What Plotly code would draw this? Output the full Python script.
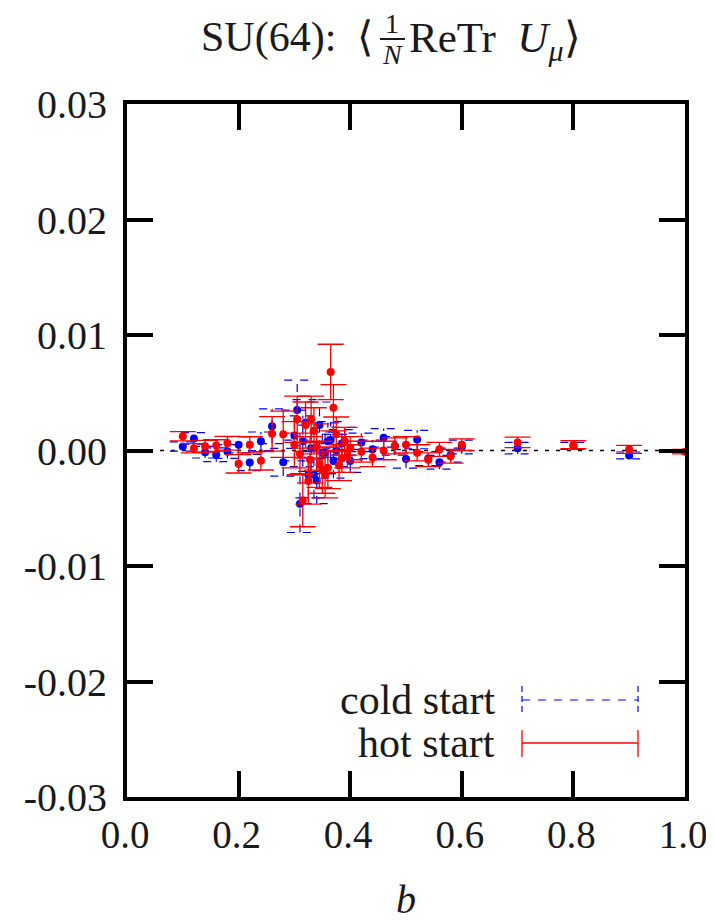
import plotly.graph_objects as go

# ---------------- data ----------------
cold_b = [0.10, 0.12, 0.14, 0.16, 0.18, 0.20, 0.22, 0.24, 0.26, 0.28,
          0.300, 0.305, 0.310, 0.315, 0.320, 0.325, 0.330, 0.335, 0.340, 0.345,
          0.350, 0.355, 0.360, 0.365, 0.370, 0.375, 0.385, 0.390, 0.400,
          0.42, 0.44, 0.46, 0.48, 0.50, 0.52, 0.54, 0.56, 0.58, 0.60,
          0.70, 0.80, 0.90]
cold_val = [0.00035, 0.00104, -0.00015, -0.00037, -0.00009, 0.00049, -0.00104, 0.00080, 0.00210, -0.00101,
            0.00130, 0.00350, -0.00460, 0.00080, 0.00240, -0.00210, 0.00020, -0.00210, -0.00260, 0.00220,
            -0.00020, -0.00020, 0.00080, 0.00090, -0.00090, 0.00000, 0.00060, 0.00080, -0.00090,
            0.00070, 0.00010, 0.00110, 0.00040, -0.00073, 0.00095, -0.00070, -0.00102, -0.00040, 0.00030,
            0.00020, 0.00040, -0.00043]
cold_err = [0.0004, 0.0005, 0.0005, 0.0006, 0.0006, 0.0007, 0.0007, 0.0008, 0.0015, 0.0012,
            0.0022, 0.0026, 0.0025, 0.0022, 0.0020, 0.0020, 0.0020, 0.0020, 0.0020, 0.0020,
            0.0018, 0.0018, 0.0016, 0.0016, 0.0015, 0.0014, 0.0012, 0.0012, 0.0010,
            0.0008, 0.0008, 0.0008, 0.0008, 0.0008, 0.0008, 0.0006, 0.0006, 0.0006, 0.0006,
            0.0005, 0.0003, 0.0003]

hot_b = [0.10, 0.12, 0.14, 0.16, 0.18, 0.20, 0.22, 0.24, 0.26, 0.28,
         0.300, 0.305, 0.310, 0.315, 0.320, 0.325, 0.328, 0.330, 0.335, 0.340, 0.345,
         0.350, 0.355, 0.360, 0.365, 0.370, 0.375, 0.380, 0.385, 0.390, 0.395, 0.400,
         0.42, 0.44, 0.46, 0.48, 0.50, 0.52, 0.54, 0.56, 0.58, 0.60,
         0.70, 0.80, 0.90, 1.00]
hot_val = [0.00124, 0.00020, 0.00037, 0.00043, 0.00063, -0.00115, 0.00049, -0.00089, 0.00144, 0.00141,
           0.00050, 0.00270, -0.00030, -0.00430, 0.00220, -0.00265, -0.00080, 0.00270, 0.00170, 0.00030, -0.00120,
           -0.00170, -0.00210, -0.00150, 0.00680, 0.00370, 0.00140, -0.00130, -0.00070, 0.00080, -0.00050, 0.00020,
           -0.00010, -0.00060, 0.00000, 0.00040, 0.00050, -0.00020, -0.00080, 0.00010, -0.00050, 0.00050,
           0.00070, 0.00050, 0.00010, -0.00010]
hot_err = [0.0004, 0.0004, 0.0005, 0.0005, 0.0006, 0.0008, 0.0007, 0.0008, 0.0015, 0.0020,
           0.0020, 0.0020, 0.0018, 0.0023, 0.0020, 0.0020, 0.0020, 0.0020, 0.0020, 0.0020, 0.0020,
           0.0020, 0.0020, 0.0018, 0.0024, 0.0020, 0.0015, 0.0013, 0.0012, 0.0012, 0.0010, 0.0010,
           0.0009, 0.0008, 0.0008, 0.0007, 0.0007, 0.0007, 0.0006, 0.0006, 0.0006, 0.0005,
           0.00045, 0.00035, 0.00035, 0.0002]

x_tickvals = [0.0, 0.2, 0.4, 0.6, 0.8, 1.0]
x_ticktext = ["0.0", "0.2", "0.4", "0.6", "0.8", "1.0"]
y_tickvals = [-0.03, -0.02, -0.01, 0.0, 0.01, 0.02, 0.03]
y_ticktext = ["-0.03", "-0.02", "-0.01", "0.00", "0.01", "0.02", "0.03"]

# ---------------- style / layout geometry ----------------
FONT = "Liberation Serif"
TXT = "#1a1a1a"
BLUE = "#0000ff"
RED = "#ff0000"
CAP = 0.0233  # half width of error-bar caps in data units of b (≈13 px)
OFF = 8       # the page body adds an 8 px margin around the figure
W, H = 714 - OFF, 923 - OFF
ML, MR, MT, MB = 127 - OFF, 29, 104 - OFF, 126
PW, PH = W - ML - MR, H - MT - MB


def px(xp):  # screenshot pixel x -> paper x
    return (xp - 127) / PW


def py(yp):  # screenshot pixel y -> paper y
    return (797 - yp) / PH


fig = go.Figure()

# zero reference line
fig.add_shape(type="line", xref="x", yref="y", x0=0, x1=1, y0=0, y1=0,
              line=dict(color="black", width=1.3, dash="4px,7px"), layer="below")

# cold start: dashed error bars built from the data arrays
ex, ey = [], []
for b, v, e in zip(cold_b, cold_val, cold_err):
    ex += [b, b, None, b - CAP, b + CAP, None, b - CAP, b + CAP, None]
    ey += [v - e, v + e, None, v + e, v + e, None, v - e, v - e, None]
fig.add_trace(go.Scatter(x=ex, y=ey, mode="lines", connectgaps=False,
                         line=dict(color=BLUE, width=1.2, dash="8px,8px"),
                         hoverinfo="skip", showlegend=False))
fig.add_trace(go.Scatter(x=cold_b, y=cold_val, mode="markers",
                         marker=dict(color=BLUE, size=8), name="cold start",
                         showlegend=False))

# hot start
fig.add_trace(go.Scatter(x=hot_b, y=hot_val, mode="markers",
                         marker=dict(color=RED, size=8), name="hot start",
                         error_y=dict(type="data", array=hot_err, visible=True,
                                      color=RED, thickness=1.3, width=13),
                         showlegend=False))

axis_common = dict(showline=True, linewidth=4, linecolor="black", mirror="ticks",
                   ticks="inside", ticklen=26, tickwidth=4, tickcolor="black",
                   showgrid=False, zeroline=False, automargin=False)

fig.update_xaxes(range=[0, 1], tickvals=x_tickvals, ticktext=x_ticktext,
                 tickfont=dict(family=FONT, size=39, color=TXT), ticklabelstandoff=0,
                 ticklabelshift=-2,
                 **axis_common)
fig.update_yaxes(range=[-0.03, 0.03], tickvals=y_tickvals, ticktext=y_ticktext,
                 tickfont=dict(family=FONT, size=40, color=TXT), ticklabelstandoff=8,
                 **axis_common)

# x axis title
fig.add_annotation(text="<i>b</i>", xref="paper", yref="paper", x=px(406), y=py(899),
                   xanchor="center", yanchor="middle", showarrow=False,
                   font=dict(family=FONT, size=40, color=TXT))

# title: SU(64): <1/N ReTr U_mu>, fraction built from pieces
TY = 38
fig.add_annotation(text="SU(64):  ⟨", xref="paper", yref="paper", x=px(375), y=py(TY),
                   xanchor="right", yanchor="middle", showarrow=False,
                   font=dict(family=FONT, size=42, color=TXT))
fig.add_annotation(text="1", xref="paper", yref="paper", x=px(392), y=py(TY - 15),
                   xanchor="center", yanchor="middle", showarrow=False,
                   font=dict(family=FONT, size=28, color=TXT))
fig.add_annotation(text="<i>N</i>", xref="paper", yref="paper", x=px(392), y=py(TY + 17),
                   xanchor="center", yanchor="middle", showarrow=False,
                   font=dict(family=FONT, size=28, color=TXT))
fig.add_shape(type="line", xref="paper", yref="paper", x0=px(380), x1=px(405),
              y0=py(TY + 1), y1=py(TY + 1), line=dict(color=TXT, width=2))
fig.add_annotation(text="ReTr&nbsp;&nbsp;<i>U</i><sub><i>μ</i></sub>⟩", xref="paper", yref="paper",
                   x=px(407), y=py(TY + 3), xanchor="left", yanchor="middle", showarrow=False,
                   font=dict(family=FONT, size=43, color=TXT))

# legend drawn gnuplot-style: text on the left, sample on the right
for label, ypix in [("cold start", 700), ("hot start", 743)]:
    fig.add_annotation(text=label, xref="paper", yref="paper", x=px(497), y=py(ypix),
                       xanchor="right", yanchor="middle", showarrow=False,
                       font=dict(family=FONT, size=42, color=TXT))
x0s, x1s = px(522), px(638)
fig.add_shape(type="line", xref="paper", yref="paper", x0=x0s, x1=x1s, y0=py(700), y1=py(700),
              line=dict(color=BLUE, width=1.2, dash="8px,8px"))
for xx in (x0s, x1s):
    fig.add_shape(type="line", xref="paper", yref="paper", x0=xx, x1=xx, y0=py(686), y1=py(714),
                  line=dict(color=BLUE, width=1.2, dash="6px,4px"))
fig.add_shape(type="line", xref="paper", yref="paper", x0=x0s, x1=x1s, y0=py(743), y1=py(743),
              line=dict(color=RED, width=1.3))
for xx in (x0s, x1s):
    fig.add_shape(type="line", xref="paper", yref="paper", x0=xx, x1=xx, y0=py(730), y1=py(757),
                  line=dict(color=RED, width=1.3))

fig.update_layout(
    width=W, height=H,
    margin=dict(l=ML, r=MR, t=MT, b=MB),
    paper_bgcolor="white", plot_bgcolor="white",
    showlegend=False,
)

fig.write_html("out.html")
